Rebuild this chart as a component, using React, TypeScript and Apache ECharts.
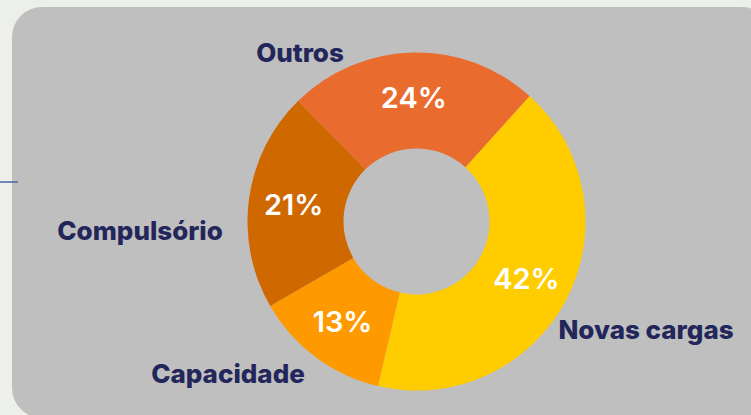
import React, { useEffect, useRef } from "react";
import * as echarts from "echarts";

const categories = ["Novas cargas", "Capacidade", "Compulsório", "Outros"];
const values = [42, 13, 21, 24];
const colors = ["#FFCC00", "#FF9900", "#D06800", "#EA6B2E"];
const percentLabels = ["42%", "13%", "21%", "24%"];
// name label anchor points (px)
const nameLabelPos: [number, number][] = [
  [646, 329],
  [228, 373],
  [140, 230],
  [300, 52],
];

export default function App() {
  const ref = useRef<HTMLDivElement>(null);
  useEffect(() => {
    document.body.style.margin = "0";
    const chart = echarts.init(ref.current!, null, { renderer: "svg" });
    const data = categories.map((c, i) => ({ name: c, value: values[i], itemStyle: { color: colors[i] } }));
    chart.setOption({
      animation: false,
      backgroundColor: "#EDEFEA",
      graphic: [
        {
          type: "rect",
          shape: { x: 12, y: 7, width: 760, height: 411, r: 30 },
          style: { fill: "#BFBFBF" },
          z: -10,
        },
        {
          type: "line",
          shape: { x1: 0, y1: 182, x2: 18, y2: 182 },
          style: { stroke: "#4A64A0", lineWidth: 1.5 },
        },
      ],
      series: [
        {
          type: "pie",
          center: [416.5, 221.5],
          radius: [73, 169],
          startAngle: 48,
          clockwise: true,
          silent: true,
          data,
          label: {
            show: true,
            position: "inside",
            formatter: (p: any) => percentLabels[p.dataIndex],
            color: "#FFFFFF",
            fontFamily: "Inter",
            fontWeight: 600,
            fontSize: 29,
          },
          labelLine: { show: false },
        },
        {
          type: "pie",
          center: [416.5, 221.5],
          radius: [73, 169],
          startAngle: 48,
          clockwise: true,
          silent: true,
          data: categories.map((c, i) => ({ name: c, value: values[i] })),
          itemStyle: { color: "rgba(0,0,0,0)" },
          label: {
            show: true,
            position: "outside",
            formatter: "{b}",
            color: "#23265A",
            fontFamily: "Inter",
            fontWeight: 800,
            fontSize: 26,
            overflow: "none",
            width: 300,
          },
          labelLine: { show: false },
          labelLayout: (p: any) => ({
            x: nameLabelPos[p.dataIndex][0],
            y: nameLabelPos[p.dataIndex][1],
            align: "center",
            verticalAlign: "middle",
          }),
        },
      ],
    });
    return () => chart.dispose();
  }, []);
  return <div ref={ref} style={{ width: 751, height: 415 }} />;
}
